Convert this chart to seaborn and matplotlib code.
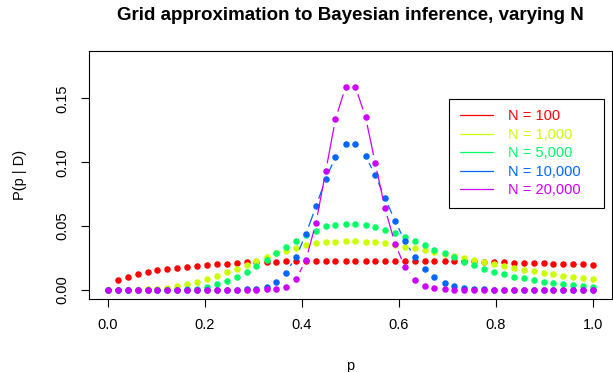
import numpy as np
import matplotlib
matplotlib.use("Agg")
import matplotlib.pyplot as plt
from matplotlib.lines import Line2D
import seaborn as sns

# ---------------- data ----------------
p_grid = [0.000, 0.020, 0.041, 0.061, 0.082, 0.102, 0.122, 0.143, 0.163, 0.184,
          0.204, 0.224, 0.245, 0.265, 0.286, 0.306, 0.327, 0.347, 0.367, 0.388,
          0.408, 0.429, 0.449, 0.469, 0.490, 0.510, 0.531, 0.551, 0.571, 0.592,
          0.612, 0.633, 0.653, 0.673, 0.694, 0.714, 0.735, 0.755, 0.776, 0.796,
          0.816, 0.837, 0.857, 0.878, 0.898, 0.918, 0.939, 0.959, 0.980, 1.000]

post_n100 = [0.0, 0.0076, 0.0104, 0.0125, 0.0143, 0.0154, 0.0167, 0.0174, 0.0182, 0.0190,
             0.0198, 0.0203, 0.0206, 0.0211, 0.0216, 0.0219, 0.0221, 0.0222, 0.0224, 0.0224,
             0.0226, 0.0227, 0.0227, 0.0227, 0.0227, 0.0227, 0.0227, 0.0227, 0.0227, 0.0227,
             0.0227, 0.0227, 0.0227, 0.0227, 0.0227, 0.0227, 0.0226, 0.0224, 0.0221, 0.0218,
             0.0216, 0.0214, 0.0212, 0.0210, 0.0208, 0.0206, 0.0204, 0.0202, 0.0200, 0.0198]

post_n1000 = [0.0, 0.0, 0.0, 0.0, 0.0003, 0.0008, 0.0016, 0.0031, 0.0044, 0.0065,
              0.0086, 0.0112, 0.0141, 0.0167, 0.0195, 0.0229, 0.0260, 0.0286, 0.0305, 0.0330,
              0.0355, 0.0368, 0.0374, 0.0378, 0.0380, 0.0380, 0.0378, 0.0371, 0.0364, 0.0350,
              0.0339, 0.0326, 0.0313, 0.0299, 0.0280, 0.0265, 0.0252, 0.0234, 0.0216, 0.0203,
              0.0188, 0.0172, 0.0159, 0.0146, 0.0135, 0.0125, 0.0112, 0.0102, 0.0091, 0.0083]

post_n5000 = [0.0, 0.0, 0.0, 0.0, 0.0, 0.0, 0.0, 0.0, 0.0003, 0.0010,
              0.0026, 0.0044, 0.0070, 0.0102, 0.0143, 0.0188, 0.0234, 0.0286, 0.0339, 0.0385,
              0.0430, 0.0462, 0.0498, 0.0510, 0.0516, 0.0516, 0.0508, 0.0494, 0.0471, 0.0443,
              0.0415, 0.0385, 0.0352, 0.0316, 0.0286, 0.0255, 0.0221, 0.0193, 0.0164, 0.0143,
              0.0125, 0.0104, 0.0089, 0.0076, 0.0063, 0.0052, 0.0042, 0.0034, 0.0029, 0.0021]

post_n10000 = [0.0, 0.0, 0.0, 0.0, 0.0, 0.0, 0.0, 0.0, 0.0, 0.0,
               0.0, 0.0, 0.0, 0.0, 0.0003, 0.0008, 0.0021, 0.0063, 0.0135, 0.0259,
               0.0436, 0.0655, 0.0870, 0.1040, 0.1140, 0.1140, 0.1050, 0.0898, 0.0721, 0.0540,
               0.0383, 0.0255, 0.0161, 0.0099, 0.0057, 0.0031, 0.0018, 0.0008, 0.0003, 0.0,
               0.0, 0.0, 0.0, 0.0, 0.0, 0.0, 0.0, 0.0, 0.0, 0.0]

post_n20000 = [0.0, 0.0, 0.0, 0.0, 0.0, 0.0, 0.0, 0.0, 0.0, 0.0,
               0.0, 0.0, 0.0, 0.0, 0.0, 0.0, 0.0003, 0.0008, 0.0025, 0.0083,
               0.0234, 0.0526, 0.0930, 0.1337, 0.1592, 0.1592, 0.1355, 0.0995, 0.0640, 0.0359,
               0.0182, 0.0080, 0.0031, 0.0013, 0.0005, 0.0002, 0.0, 0.0, 0.0, 0.0,
               0.0, 0.0, 0.0, 0.0, 0.0, 0.0, 0.0, 0.0, 0.0, 0.0]

series_labels = ["N = 100", "N = 1,000", "N = 5,000", "N = 10,000", "N = 20,000"]
series_colors = ["#FF0000", "#CCFF00", "#00FF66", "#0066FF", "#CC00FF"]

x_ticks = [0.0, 0.2, 0.4, 0.6, 0.8, 1.0]
x_tick_labels = ["0.0", "0.2", "0.4", "0.6", "0.8", "1.0"]
y_ticks = [0.00, 0.05, 0.10, 0.15]
y_tick_labels = ["0.00", "0.05", "0.10", "0.15"]

title_text = "Grid approximation to Bayesian inference, varying N"
x_label = "p"
y_label = "P(p | D)"

# ---------------- style ----------------
sns.set_style("ticks")
plt.rcParams["font.family"] = ["Liberation Sans", "DejaVu Sans"]
plt.rcParams["axes.edgecolor"] = "black"
plt.rcParams["xtick.color"] = "black"
plt.rcParams["ytick.color"] = "black"
plt.rcParams["text.color"] = "black"
plt.rcParams["axes.labelcolor"] = "black"

FS = 10.5

fig = plt.figure(figsize=(6.13, 3.72), dpi=100)
fig.patch.set_facecolor("white")
ax = fig.add_axes([0.1445, 0.1962, 0.8545, 0.6667])
ax.set_xlim(-0.04, 1.04)
ax.set_ylim(-0.0072, 0.1872)

all_series = [post_n100, post_n1000, post_n5000, post_n10000, post_n20000]

# R-style type="b": line segments with gaps around the points
gap_px = 8.0
to_data = ax.transData.inverted()
for k, (vals, col) in enumerate(zip(all_series, series_colors)):
    pts = ax.transData.transform(np.column_stack([p_grid, vals]))
    sx, sy = [], []
    for a, b in zip(pts[:-1], pts[1:]):
        d = b - a
        L = np.hypot(d[0], d[1])
        if L > 2 * gap_px:
            u = d / L
            seg = to_data.transform(np.array([a + u * gap_px, b - u * gap_px]))
            sx += [seg[0, 0], seg[1, 0], np.nan]
            sy += [seg[0, 1], seg[1, 1], np.nan]
    ax.plot(sx, sy, color=col, lw=0.9, zorder=2 + 2 * k, solid_capstyle="butt")
    sns.scatterplot(x=p_grid, y=vals, color=col, s=22, linewidth=0, ax=ax,
                    zorder=3 + 2 * k, legend=False)

for s in ax.spines.values():
    s.set_visible(True)
    s.set_linewidth(0.8)
    s.set_color("black")

ax.set_xticks(x_ticks)
ax.set_xticklabels(x_tick_labels)
ax.set_yticks(y_ticks)
ax.set_yticklabels(y_tick_labels)
ax.tick_params(direction="out", length=5.5, width=0.8, labelsize=FS,
               bottom=True, left=True, top=False, right=False)
ax.tick_params(axis="x", pad=8)
ax.tick_params(axis="y", pad=8, labelrotation=90)
for lbl in ax.get_yticklabels():
    lbl.set_va("center")

ax.set_xlabel(x_label, fontsize=FS)
ax.xaxis.set_label_coords(0.5, -0.24)
ax.set_ylabel(y_label, fontsize=FS)
ax.yaxis.set_label_coords(-0.117, 0.5)

fig.text(350.5 / 613, 1 - 15 / 372, title_text, ha="center", va="center",
         fontsize=13.5, fontweight="bold")

handles = [Line2D([0], [0], color=c, lw=0.9) for c in series_colors]
leg = ax.legend(handles, series_labels, loc="upper left",
                bbox_to_anchor=(449 / 613, 1 - 208 / 372, 155 / 613, 109 / 372),
                bbox_transform=fig.transFigure, mode="expand", borderaxespad=0,
                fontsize=FS, labelcolor="linecolor", frameon=True, fancybox=False,
                framealpha=1, edgecolor="black", handlelength=2.3,
                handletextpad=1.05, labelspacing=0.3, borderpad=0.72)
leg.get_frame().set_linewidth(0.8)
leg.set_zorder(20)

fig.savefig("out.png", dpi=100)
